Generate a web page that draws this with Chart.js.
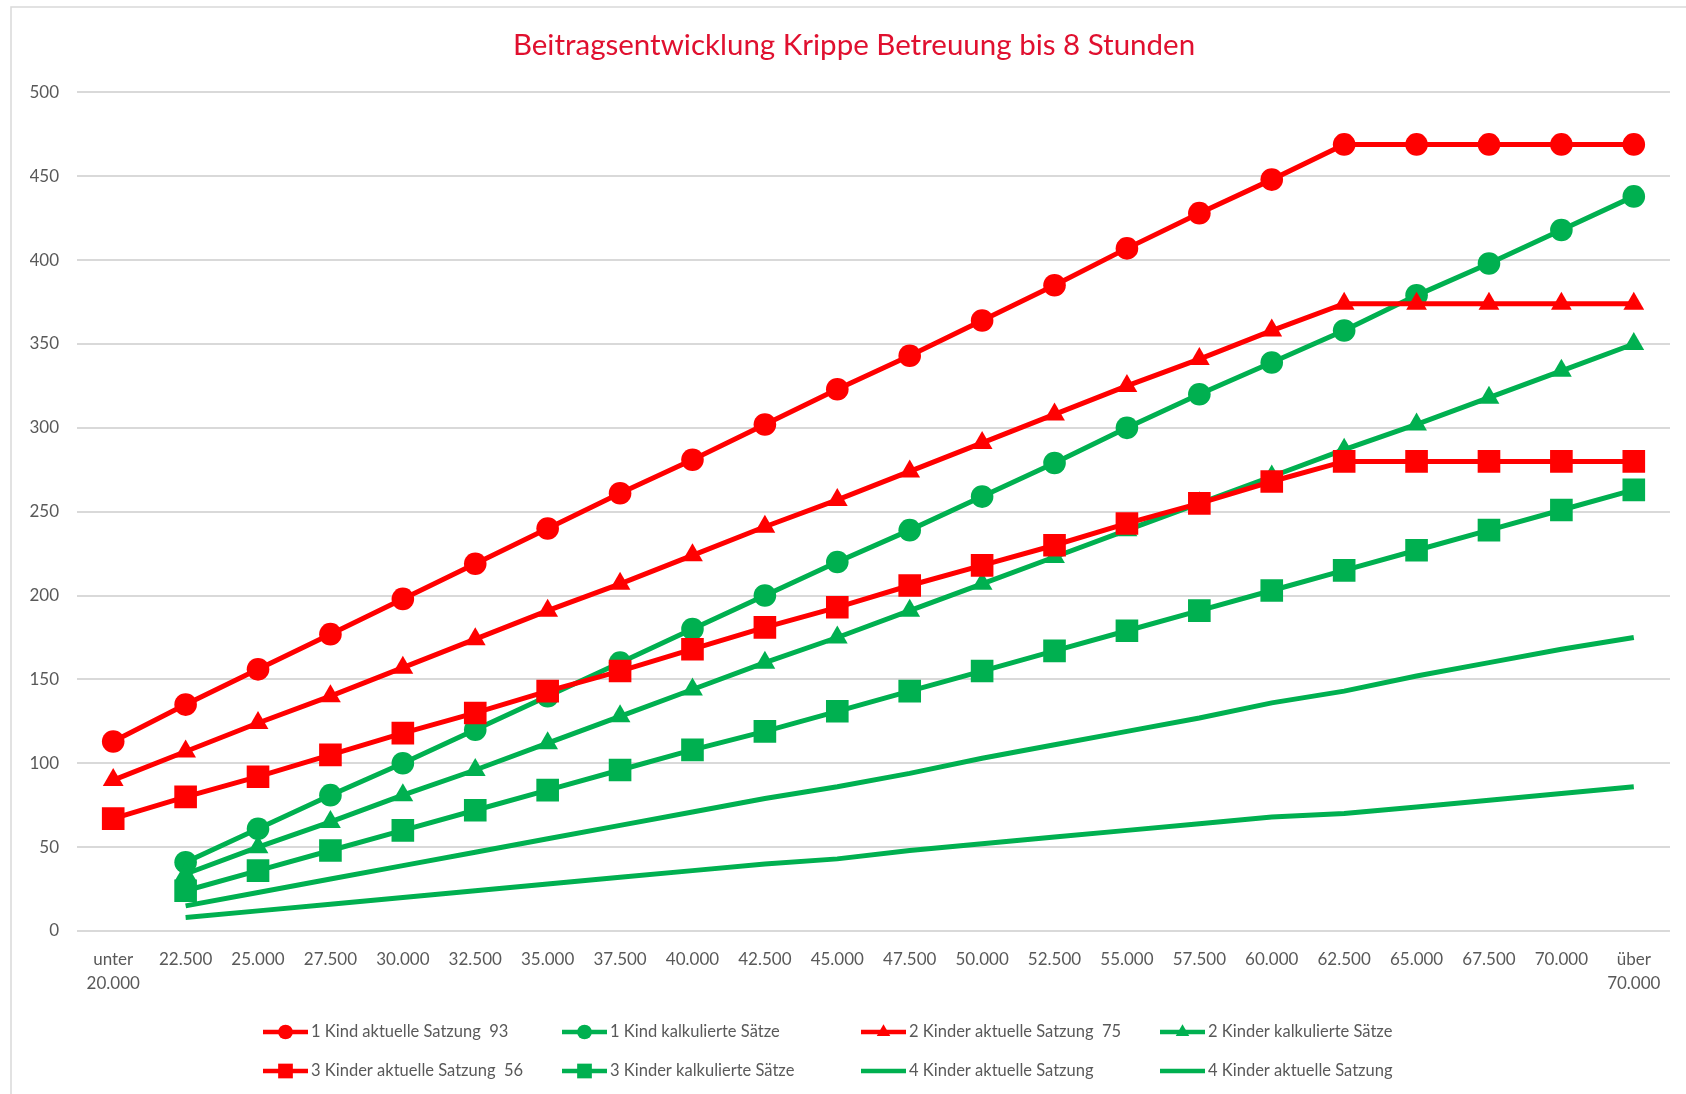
<html lang="de">
<head>
<meta charset="UTF-8">
<title>Beitragsentwicklung Krippe</title>
<script src="https://cdn.jsdelivr.net/npm/chart.js"></script>
<style>
  body, html { margin: 0; padding: 0; background: #fff; }
  .chart-box { width: 1686px; height: 1094px; }
</style>
</head>
<body>
<div class="chart-box"><canvas id="beitragChart" width="1686" height="1094"></canvas></div>
<script>
// x categories (income brackets), multi-line where the original wraps
const categories = [['unter', '20.000'], '22.500', '25.000', '27.500', '30.000', '32.500', '35.000',
  '37.500', '40.000', '42.500', '45.000', '47.500', '50.000', '52.500', '55.000', '57.500',
  '60.000', '62.500', '65.000', '67.500', '70.000', ['über', '70.000']];

const yTicks = [0, 50, 100, 150, 200, 250, 300, 350, 400, 450, 500];

// series values
const kind1Aktuell  = [113, 135, 156, 177, 198, 219, 240, 261, 281, 302, 323, 343, 364, 385, 407, 428, 448, 469, 469, 469, 469, 469];
const kind1Kalk     = [null, 41, 61, 81, 100, 120, 140, 160, 180, 200, 220, 239, 259, 279, 300, 320, 339, 358, 379, 398, 418, 438];
const kinder2Aktuell = [90, 107, 124, 140, 157, 174, 191, 207, 224, 241, 257, 274, 291, 308, 325, 341, 358, 374, 374, 374, 374, 374];
const kinder2Kalk   = [null, 34, 50, 65, 81, 96, 112, 128, 144, 160, 175, 191, 207, 223, 239, 255, 271, 287, 302, 318, 334, 350];
const kinder3Aktuell = [67, 80, 92, 105, 118, 130, 143, 155, 168, 181, 193, 206, 218, 230, 243, 255, 268, 280, 280, 280, 280, 280];
const kinder3Kalk   = [null, 24, 36, 48, 60, 72, 84, 96, 108, 119, 131, 143, 155, 167, 179, 191, 203, 215, 227, 239, 251, 263];
const kinder4A      = [null, 15, 23, 31, 39, 47, 55, 63, 71, 79, 86, 94, 103, 111, 119, 127, 136, 143, 152, 160, 168, 175];
const kinder4B      = [null, 8, 12, 16, 20, 24, 28, 32, 36, 40, 43, 48, 52, 56, 60, 64, 68, 70, 74, 78, 82, 86];

const RED = '#ff0000';
const GREEN = '#00b050';
const FONT = 'Lato, "Open Sans", sans-serif';

function series(label, data, color, style, radius, idx) {
  return {
    label: label,
    data: data,
    borderColor: color,
    backgroundColor: color,
    borderWidth: 5,
    pointStyle: style,
    pointRadius: radius,
    pointHoverRadius: radius,
    pointBorderWidth: 0,
    tension: 0,
    order: 7 - idx   // later series on top, like the original
  };
}

const datasets = [
  series('1 Kind aktuelle Satzung  93', kind1Aktuell, RED, 'circle', 11.3, 0),
  series('1 Kind kalkulierte Sätze', kind1Kalk, GREEN, 'circle', 11.3, 1),
  series('2 Kinder aktuelle Satzung  75', kinder2Aktuell, RED, 'triangle', 12, 2),
  series('2 Kinder kalkulierte Sätze', kinder2Kalk, GREEN, 'triangle', 12, 3),
  series('3 Kinder aktuelle Satzung  56', kinder3Aktuell, RED, 'rect', 16, 4),
  series('3 Kinder kalkulierte Sätze', kinder3Kalk, GREEN, 'rect', 16, 5),
  series('4 Kinder aktuelle Satzung', kinder4A, GREEN, 'circle', 0, 6),
  series('4 Kinder aktuelle Satzung', kinder4B, GREEN, 'circle', 0, 7)
];

// white background + the thin frame of the chart area
const framePlugin = {
  id: 'frame',
  beforeDraw(chart) {
    const ctx = chart.ctx;
    ctx.save();
    ctx.fillStyle = '#fff';
    ctx.fillRect(0, 0, chart.width, chart.height);
    ctx.strokeStyle = '#d9d9d9';
    ctx.lineWidth = 1.5;
    ctx.strokeRect(11, 7, chart.width + 10, chart.height + 10);
    ctx.restore();
  }
};

function drawMarker(ctx, style, x, y, r) {
  ctx.beginPath();
  if (style === 'circle') {
    ctx.arc(x, y, r, 0, Math.PI * 2);
  } else if (style === 'rect') {
    const s = r * Math.SQRT1_2;
    ctx.rect(x - s, y - s, 2 * s, 2 * s);
  } else if (style === 'triangle') {
    ctx.moveTo(x, y - r);
    ctx.lineTo(x + r * 0.866, y + r * 0.5);
    ctx.lineTo(x - r * 0.866, y + r * 0.5);
    ctx.closePath();
  }
  ctx.fill();
}

// Excel-like legend: 2 rows x 4 fixed columns
const legendPlugin = {
  id: 'excelLegend',
  afterDraw(chart) {
    const ctx = chart.ctx;
    const colW = 299;
    const startX = chart.width / 2 - 580;
    const rowY = [chart.chartArea.bottom + 101, chart.chartArea.bottom + 140];
    ctx.save();
    ctx.font = '16.5px ' + FONT;
    ctx.textBaseline = 'middle';
    chart.data.datasets.forEach((ds, i) => {
      const x = startX + (i % 4) * colW;
      const y = rowY[Math.floor(i / 4)];
      ctx.strokeStyle = ds.borderColor;
      ctx.fillStyle = ds.borderColor;
      ctx.lineWidth = 4.5;
      ctx.beginPath();
      ctx.moveTo(x, y);
      ctx.lineTo(x + 45, y);
      ctx.stroke();
      if (ds.pointRadius > 0) {
        drawMarker(ctx, ds.pointStyle, x + 22.5, y, ds.pointRadius * 0.65);
      }
      ctx.fillStyle = '#595959';
      ctx.fillText(ds.label, x + 48, y);
    });
    ctx.restore();
  }
};

const ctx = document.getElementById('beitragChart').getContext('2d');
const chart = new Chart(ctx, {
  type: 'line',
  data: { labels: categories, datasets: datasets },
  plugins: [framePlugin, legendPlugin],
  options: {
    responsive: false,
    animation: false,
    layout: { padding: { left: 30, right: 8, top: 0, bottom: 83 } },
    plugins: {
      legend: { display: false },
      tooltip: { enabled: false },
      title: {
        display: true,
        text: 'Beitragsentwicklung Krippe Betreuung bis 8 Stunden',
        color: '#e0102f',
        font: { family: FONT, size: 29.5, weight: 'normal' },
        padding: { top: 28, bottom: 29 }
      }
    },
    scales: {
      x: {
        type: 'category',
        offset: true,
        grid: { display: false, drawTicks: false },
        border: { display: false },
        ticks: {
          color: '#595959',
          font: { family: FONT, size: 17, lineHeight: 1.45 },
          padding: 16,
          maxRotation: 0,
          autoSkip: false
        },
        afterFit(scale) { scale.height = 80; }
      },
      y: {
        min: 0,
        max: 500,
        afterBuildTicks(scale) { scale.ticks = yTicks.map(v => ({ value: v })); },
        grid: { color: '#d9d9d9', lineWidth: 2, drawTicks: false },
        border: { display: false },
        ticks: {
          color: '#595959',
          font: { family: FONT, size: 17 },
          padding: 18
        },
        afterFit(scale) { scale.width = 47; }
      }
    }
  }
});
</script>
</body>
</html>
